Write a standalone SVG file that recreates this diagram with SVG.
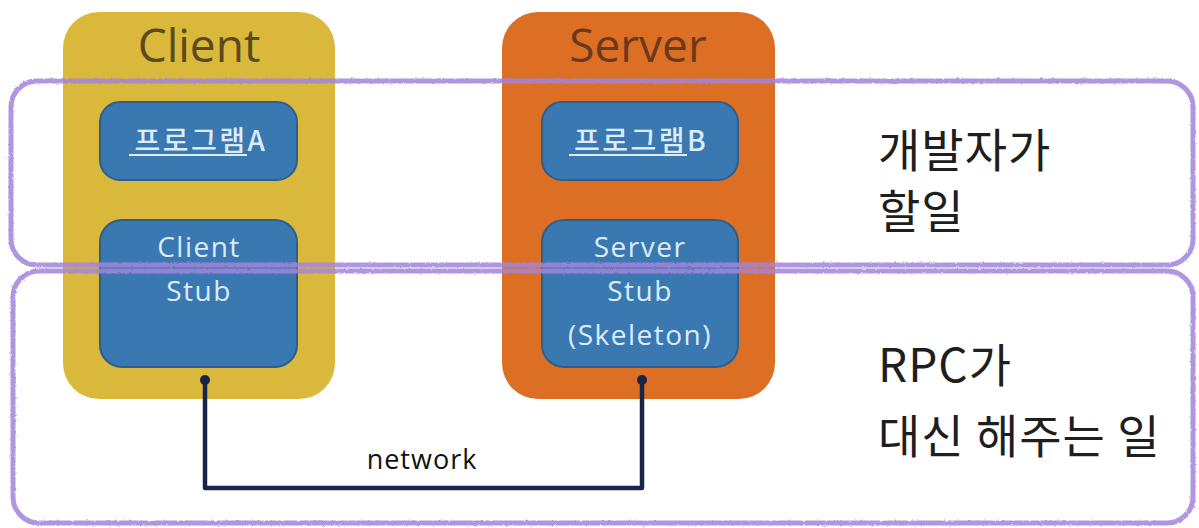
<svg xmlns="http://www.w3.org/2000/svg" width="1199" height="528" viewBox="0 0 1199 528">
  <style>
    .host { stroke: none; }
    .title { font-family: "Open Sans", "Noto Sans", "Noto Sans CJK KR", sans-serif; font-size: 46px; text-anchor: middle; }
    .mod { fill: #3a78b2; stroke: #2d5f8c; stroke-width: 2; }
    .modtext { font-family: "Open Sans", "Noto Sans", "Noto Sans CJK KR", sans-serif; font-size: 28px; fill: #dcecfa; text-anchor: middle; letter-spacing: 1.5px; }
    .kor { font-family: "Noto Sans CJK KR", "Noto Sans", sans-serif; font-size: 28px; font-weight: 500; fill: #dcecfa; text-anchor: middle; letter-spacing: 2.5px; }
    .zone { fill: none; stroke: #a284da; stroke-width: 5; stroke-opacity: 0.85; }
    .note { font-family: "Noto Sans CJK KR", "Noto Sans", sans-serif; font-size: 46px; font-weight: 400; fill: #1e1e1e; letter-spacing: 1px; }
    .wire { fill: none; stroke: #17254a; stroke-width: 4.5; stroke-linejoin: round; }
    .lbl { font-family: "Open Sans", "Noto Sans", sans-serif; font-size: 27px; fill: #111; text-anchor: middle; letter-spacing: 1px; }
  </style>
  <defs>
    <!-- slight wobble for the hand-drawn zone outlines -->
    <filter id="rough" x="-2%" y="-5%" width="104%" height="110%">
      <feTurbulence type="fractalNoise" baseFrequency="0.35" numOctaves="2" seed="3" result="n"/>
      <feDisplacementMap in="SourceGraphic" in2="n" scale="2.5"/>
    </filter>
  </defs>
  <rect width="1199" height="528" fill="#ffffff"/>

  <g id="client">
    <rect class="host" x="63" y="12" width="272" height="387" rx="36" fill="#d9b83c"/>
    <text class="title" x="199" y="62" fill="#5a4a1e">Client</text>
  </g>
  <g id="server">
    <rect class="host" x="502" y="12" width="273" height="387" rx="36" fill="#dd6f24"/>
    <text class="title" x="638" y="62" fill="#6b3a1c">Server</text>
  </g>

  <g id="programA">
    <rect class="mod" x="100" y="102" width="197" height="78" rx="20"/>
    <text class="kor" x="201" y="151">프로그램A</text>
    <line x1="129" y1="155" x2="247" y2="155" stroke="#dcecfa" stroke-width="1.8"/>
  </g>
  <g id="programB">
    <rect class="mod" x="542" y="102" width="196" height="78" rx="20"/>
    <text class="kor" x="641" y="151">프로그램B</text>
    <line x1="569" y1="155" x2="687" y2="155" stroke="#dcecfa" stroke-width="1.8"/>
  </g>
  <g id="clientStub">
    <rect class="mod" x="100" y="220" width="197" height="147" rx="22"/>
    <text class="modtext" x="199" y="257">Client</text>
    <text class="modtext" x="199" y="301">Stub</text>
  </g>
  <g id="serverStub">
    <rect class="mod" x="542" y="220" width="196" height="147" rx="22"/>
    <text class="modtext" x="640" y="257">Server</text>
    <text class="modtext" x="640" y="301">Stub</text>
    <text class="modtext" x="640" y="345">(Skeleton)</text>
  </g>

  <g id="connectors">
    <path class="wire" d="M205 380 V488 H642 V380"/>
    <circle cx="205" cy="380" r="5" fill="#17254a"/>
    <circle cx="642" cy="380" r="5" fill="#17254a"/>
    <text class="lbl" x="422" y="469">network</text>
  </g>

  <g id="developerZone">
    <rect class="zone" x="11" y="81" width="1182" height="184" rx="26" filter="url(#rough)"/>
    <text class="note" x="878" y="167">개발자가</text>
    <text class="note" x="878" y="228">할일</text>
  </g>
  <g id="rpcZone">
    <rect class="zone" x="13" y="271" width="1180" height="252" rx="26" filter="url(#rough)"/>
    <text class="note" x="878" y="382">RPC가</text>
    <text class="note" x="878" y="453">대신 해주는 일</text>
  </g>
</svg>
